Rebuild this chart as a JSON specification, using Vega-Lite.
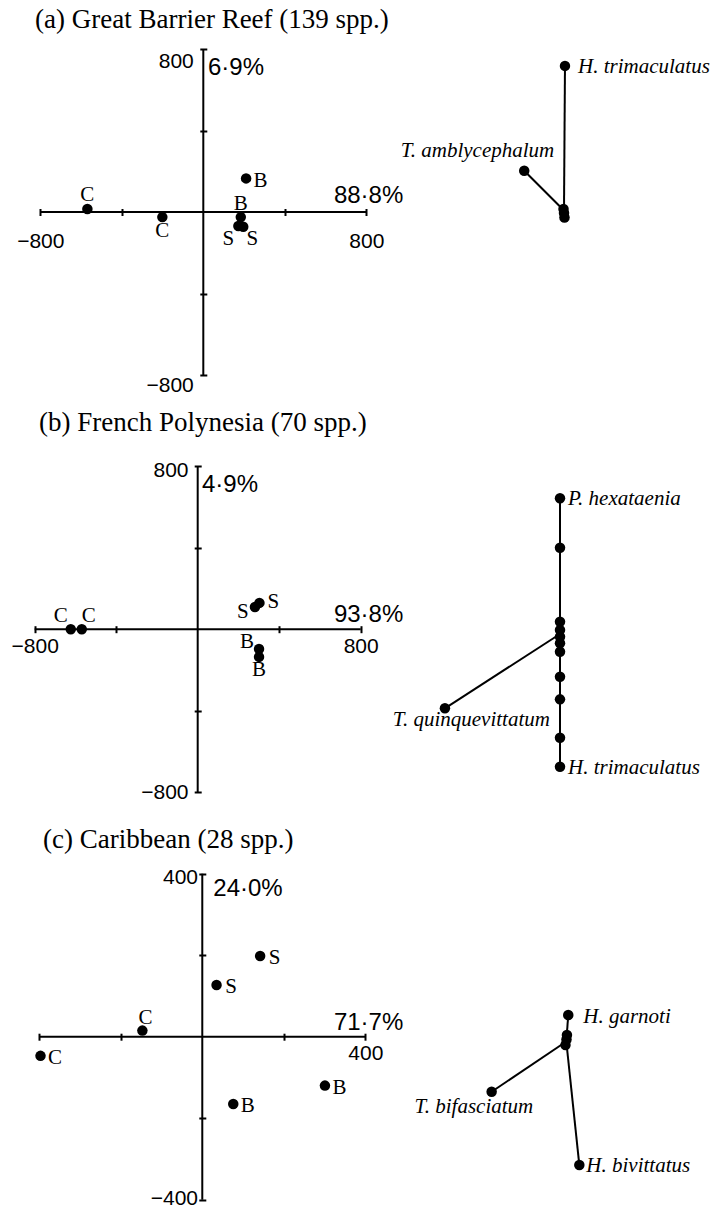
{
  "$schema": "https://vega.github.io/schema/vega-lite/v6.json",
  "padding": 0,
  "spacing": 0,
  "bounds": "flush",
  "background": "white",
  "config": {"view": {"stroke": null}},
  "vconcat": [
    {
      "width": 715,
      "height": 400,
      "resolve": {"scale": {"x": "independent", "y": "independent"}},
      "layer": [
        {
          "data": {"values": [
            {"g": "C", "x": -569, "y": 15, "lp": "above"},
            {"g": "C", "x": -201, "y": -25, "lp": "below"},
            {"g": "B", "x": 210, "y": 165, "lp": "right"},
            {"g": "B", "x": 184, "y": -25, "lp": "above"},
            {"g": "S", "x": 172, "y": -69, "lp": "belowleft"},
            {"g": "S", "x": 196, "y": -72, "lp": "belowright"}
          ]},
          "layer": [
            {
              "mark": {"type": "circle", "size": 110, "opacity": 1, "color": "black"},
              "encoding": {
                "x": {"field": "x", "type": "quantitative", "scale": {"domain": [-997.8, 2511.4], "nice": false, "zero": false},
                  "axis": {"values": [-800, -400, 400, 800], "domain": false, "grid": false, "title": null, "tickSize": 7, "tickWidth": 2, "tickColor": "black", "offset": -191.5, "labelExpr": "abs(datum.value)==800 ? datum.label : ''", "labelFont": "Liberation Sans", "labelFontSize": 21, "labelColor": "black", "labelBaseline": "middle", "labelPadding": 25.5, "labelFlush": false, "labelOverlap": false}},
                "y": {"field": "y", "type": "quantitative", "scale": {"domain": [-922.7, 1040.5], "nice": false, "zero": false},
                  "axis": {"values": [-800, -400, 400, 800], "domain": false, "grid": false, "title": null, "tickSize": 7, "tickWidth": 2, "tickColor": "black", "offset": -206.8, "labelExpr": "abs(datum.value)==800 ? datum.label : ''", "labelFont": "Liberation Sans", "labelFontSize": 21, "labelColor": "black", "labelBaseline": "middle", "labelAlign": "right", "labelPadding": 6.5, "labelOffset": {"condition": {"test": "datum.value < 0", "value": 10}, "value": 12}, "labelFlush": false, "labelOverlap": false}}
              }
            },
            {
              "data": {"values": [{}]},
              "mark": {"type": "rule", "strokeWidth": 2, "color": "black"},
              "encoding": {"x": {"datum": -800}, "x2": {"datum": 800}, "y": {"datum": 0}}
            },
            {
              "data": {"values": [{}]},
              "mark": {"type": "rule", "strokeWidth": 2, "color": "black"},
              "encoding": {"y": {"datum": -800}, "y2": {"datum": 800}, "x": {"datum": 0}}
            },
            {"transform": [{"filter": "datum.lp=='above'"}], "mark": {"type": "text", "font": "Liberation Serif", "fontSize": 21, "align": "center", "baseline": "middle", "dy": -13.5, "color": "black"}, "encoding": {"x": {"field": "x", "type": "quantitative"}, "y": {"field": "y", "type": "quantitative"}, "text": {"field": "g"}}},
            {"transform": [{"filter": "datum.lp=='below'"}], "mark": {"type": "text", "font": "Liberation Serif", "fontSize": 21, "align": "center", "baseline": "middle", "dy": 13.5, "color": "black"}, "encoding": {"x": {"field": "x", "type": "quantitative"}, "y": {"field": "y", "type": "quantitative"}, "text": {"field": "g"}}},
            {"transform": [{"filter": "datum.lp=='right'"}], "mark": {"type": "text", "font": "Liberation Serif", "fontSize": 21, "align": "center", "baseline": "middle", "dx": 14.5, "dy": 2.5, "color": "black"}, "encoding": {"x": {"field": "x", "type": "quantitative"}, "y": {"field": "y", "type": "quantitative"}, "text": {"field": "g"}}},
            {"transform": [{"filter": "datum.lp=='belowleft'"}], "mark": {"type": "text", "font": "Liberation Serif", "fontSize": 21, "align": "center", "baseline": "middle", "dx": -10, "dy": 13, "color": "black"}, "encoding": {"x": {"field": "x", "type": "quantitative"}, "y": {"field": "y", "type": "quantitative"}, "text": {"field": "g"}}},
            {"transform": [{"filter": "datum.lp=='belowright'"}], "mark": {"type": "text", "font": "Liberation Serif", "fontSize": 21, "align": "center", "baseline": "middle", "dx": 9, "dy": 12, "color": "black"}, "encoding": {"x": {"field": "x", "type": "quantitative"}, "y": {"field": "y", "type": "quantitative"}, "text": {"field": "g"}}},
            {
              "data": {"values": [{"t": "(a) Great Barrier Reef (139 spp.)"}]},
              "mark": {"type": "text", "font": "Liberation Serif", "fontSize": 27, "align": "left", "baseline": "middle", "color": "black"},
              "encoding": {"x": {"datum": -826}, "y": {"datum": 944}, "text": {"field": "t"}}
            },
            {
              "data": {"values": [{"t": "88·8%"}]},
              "mark": {"type": "text", "font": "Liberation Sans", "fontSize": 24, "align": "right", "baseline": "alphabetic", "color": "black"},
              "encoding": {"x": {"datum": 981.6}, "y": {"datum": 44.2}, "text": {"field": "t"}}
            },
            {
              "data": {"values": [{"t": "6·9%"}]},
              "mark": {"type": "text", "font": "Liberation Sans", "fontSize": 24, "align": "left", "baseline": "alphabetic", "color": "black"},
              "encoding": {"x": {"datum": 23}, "y": {"datum": 672.4}, "text": {"field": "t"}}
            }
          ]
        },
        {
          "data": {"values": [
            {"sp": "H. trimaculatus", "lx": 0.006, "ly": 0.887, "lp": "r"},
            {"sp": "T. amblycephalum", "lx": -0.244, "ly": 0.244, "lp": "ul"},
            {"sp": "", "lx": -0.003, "ly": 0.009, "lp": "none"},
            {"sp": "", "lx": 0.0, "ly": -0.015, "lp": "none"},
            {"sp": "", "lx": 0.003, "ly": -0.043, "lp": "none"}
          ]},
          "layer": [
            {
              "mark": {"type": "rule", "strokeWidth": 2, "color": "black"},
              "encoding": {
                "x": {"field": "lx", "type": "quantitative", "scale": {"domain": [-3.4601, 0.9264], "nice": false, "zero": false}, "axis": null},
                "y": {"field": "ly", "type": "quantitative", "scale": {"domain": [-1.1626, 1.2914], "nice": false, "zero": false}, "axis": null},
                "x2": {"datum": 0}, "y2": {"datum": 0}
              }
            },
            {
              "mark": {"type": "circle", "size": 110, "opacity": 1, "color": "black"},
              "encoding": {"x": {"field": "lx", "type": "quantitative", "axis": null}, "y": {"field": "ly", "type": "quantitative", "axis": null}}
            },
            {"transform": [{"filter": "datum.lp=='r'"}], "mark": {"type": "text", "font": "Liberation Serif", "fontStyle": "italic", "fontSize": 21, "align": "left", "baseline": "middle", "dx": 13, "dy": 1, "color": "black"}, "encoding": {"x": {"field": "lx", "type": "quantitative", "axis": null}, "y": {"field": "ly", "type": "quantitative", "axis": null}, "text": {"field": "sp"}}},
            {"transform": [{"filter": "datum.lp=='ul'"}], "mark": {"type": "text", "font": "Liberation Serif", "fontStyle": "italic", "fontSize": 21, "align": "right", "baseline": "middle", "dx": 30, "dy": -20, "color": "black"}, "encoding": {"x": {"field": "lx", "type": "quantitative", "axis": null}, "y": {"field": "ly", "type": "quantitative", "axis": null}, "text": {"field": "sp"}}}
          ]
        }
      ]
    },
    {
      "width": 715,
      "height": 412,
      "resolve": {"scale": {"x": "independent", "y": "independent"}},
      "layer": [
        {
          "data": {"values": [
            {"g": "C", "x": -623, "y": 0, "lp": "aboveleft"},
            {"g": "C", "x": -569, "y": 0, "lp": "aboveright"},
            {"g": "S", "x": 281, "y": 109, "lp": "left"},
            {"g": "S", "x": 303, "y": 129, "lp": "right"},
            {"g": "B", "x": 301, "y": -97, "lp": "upleft"},
            {"g": "B", "x": 301, "y": -136, "lp": "below"}
          ]},
          "layer": [
            {
              "mark": {"type": "circle", "size": 110, "opacity": 1, "color": "black"},
              "encoding": {
                "x": {"field": "x", "type": "quantitative", "scale": {"domain": [-970.3, 2538.9], "nice": false, "zero": false},
                  "axis": {"values": [-800, -400, 400, 800], "domain": false, "grid": false, "title": null, "tickSize": 7, "tickWidth": 2, "tickColor": "black", "offset": -186.3, "labelExpr": "abs(datum.value)==800 ? datum.label : ''", "labelFont": "Liberation Sans", "labelFontSize": 21, "labelColor": "black", "labelBaseline": "middle", "labelPadding": 14, "labelFlush": false, "labelOverlap": false}},
                "y": {"field": "y", "type": "quantitative", "scale": {"domain": [-897.2, 1124.9], "nice": false, "zero": false},
                  "axis": {"values": [-800, -400, 400, 800], "domain": false, "grid": false, "title": null, "tickSize": 7, "tickWidth": 2, "tickColor": "black", "offset": -201.2, "labelExpr": "abs(datum.value)==800 ? datum.label : ''", "labelFont": "Liberation Sans", "labelFontSize": 21, "labelColor": "black", "labelBaseline": "middle", "labelAlign": "right", "labelPadding": 6.2, "labelOffset": {"condition": {"test": "datum.value < 0", "value": 0}, "value": 4}, "labelFlush": false, "labelOverlap": false}}
              }
            },
            {
              "data": {"values": [{}]},
              "mark": {"type": "rule", "strokeWidth": 2, "color": "black"},
              "encoding": {"x": {"datum": -800}, "x2": {"datum": 800}, "y": {"datum": 0}}
            },
            {
              "data": {"values": [{}]},
              "mark": {"type": "rule", "strokeWidth": 2, "color": "black"},
              "encoding": {"y": {"datum": -800}, "y2": {"datum": 800}, "x": {"datum": 0}}
            },
            {"transform": [{"filter": "datum.lp=='aboveleft'"}], "mark": {"type": "text", "font": "Liberation Serif", "fontSize": 21, "align": "center", "baseline": "middle", "dx": -10, "dy": -13, "color": "black"}, "encoding": {"x": {"field": "x", "type": "quantitative"}, "y": {"field": "y", "type": "quantitative"}, "text": {"field": "g"}}},
            {"transform": [{"filter": "datum.lp=='aboveright'"}], "mark": {"type": "text", "font": "Liberation Serif", "fontSize": 21, "align": "center", "baseline": "middle", "dx": 7, "dy": -13, "color": "black"}, "encoding": {"x": {"field": "x", "type": "quantitative"}, "y": {"field": "y", "type": "quantitative"}, "text": {"field": "g"}}},
            {"transform": [{"filter": "datum.lp=='left'"}], "mark": {"type": "text", "font": "Liberation Serif", "fontSize": 21, "align": "center", "baseline": "middle", "dx": -12, "dy": 5, "color": "black"}, "encoding": {"x": {"field": "x", "type": "quantitative"}, "y": {"field": "y", "type": "quantitative"}, "text": {"field": "g"}}},
            {"transform": [{"filter": "datum.lp=='right'"}], "mark": {"type": "text", "font": "Liberation Serif", "fontSize": 21, "align": "center", "baseline": "middle", "dx": 14, "dy": -1, "color": "black"}, "encoding": {"x": {"field": "x", "type": "quantitative"}, "y": {"field": "y", "type": "quantitative"}, "text": {"field": "g"}}},
            {"transform": [{"filter": "datum.lp=='upleft'"}], "mark": {"type": "text", "font": "Liberation Serif", "fontSize": 21, "align": "center", "baseline": "middle", "dx": -12, "dy": -7, "color": "black"}, "encoding": {"x": {"field": "x", "type": "quantitative"}, "y": {"field": "y", "type": "quantitative"}, "text": {"field": "g"}}},
            {"transform": [{"filter": "datum.lp=='below'"}], "mark": {"type": "text", "font": "Liberation Serif", "fontSize": 21, "align": "center", "baseline": "middle", "dy": 13.5, "color": "black"}, "encoding": {"x": {"field": "x", "type": "quantitative"}, "y": {"field": "y", "type": "quantitative"}, "text": {"field": "g"}}},
            {
              "data": {"values": [{"t": "(b) French Polynesia (70 spp.)"}]},
              "mark": {"type": "text", "font": "Liberation Serif", "fontSize": 27, "align": "left", "baseline": "middle", "color": "black"},
              "encoding": {"x": {"datum": -778.9}, "y": {"datum": 1009.6}, "text": {"field": "t"}}
            },
            {
              "data": {"values": [{"t": "93·8%"}]},
              "mark": {"type": "text", "font": "Liberation Sans", "fontSize": 24, "align": "right", "baseline": "alphabetic", "color": "black"},
              "encoding": {"x": {"datum": 1009}, "y": {"datum": 36.8}, "text": {"field": "t"}}
            },
            {
              "data": {"values": [{"t": "4·9%"}]},
              "mark": {"type": "text", "font": "Liberation Sans", "fontSize": 24, "align": "left", "baseline": "alphabetic", "color": "black"},
              "encoding": {"x": {"datum": 21.1}, "y": {"datum": 673.4}, "text": {"field": "t"}}
            }
          ]
        },
        {
          "data": {"values": [
            {"sp": "P. hexataenia", "lx": 0, "ly": 0.833, "lp": "r"},
            {"sp": "", "lx": 0, "ly": 0.529, "lp": "none"},
            {"sp": "", "lx": 0, "ly": 0.075, "lp": "none"},
            {"sp": "", "lx": 0, "ly": 0.025, "lp": "none"},
            {"sp": "", "lx": 0, "ly": -0.017, "lp": "none"},
            {"sp": "", "lx": 0, "ly": -0.057, "lp": "none"},
            {"sp": "", "lx": 0, "ly": -0.109, "lp": "none"},
            {"sp": "", "lx": 0, "ly": -0.262, "lp": "none"},
            {"sp": "", "lx": 0, "ly": -0.401, "lp": "none"},
            {"sp": "", "lx": 0, "ly": -0.636, "lp": "none"},
            {"sp": "H. trimaculatus", "lx": 0, "ly": -0.814, "lp": "r"},
            {"sp": "T. quinquevittatum", "lx": -0.706, "ly": -0.456, "lp": "bl"}
          ]},
          "layer": [
            {
              "mark": {"type": "rule", "strokeWidth": 2, "color": "black"},
              "encoding": {
                "x": {"field": "lx", "type": "quantitative", "scale": {"domain": [-3.4356, 0.9509], "nice": false, "zero": false}, "axis": null},
                "y": {"field": "ly", "type": "quantitative", "scale": {"domain": [-1.092, 1.4356], "nice": false, "zero": false}, "axis": null},
                "x2": {"datum": 0}, "y2": {"datum": 0}
              }
            },
            {
              "mark": {"type": "circle", "size": 110, "opacity": 1, "color": "black"},
              "encoding": {"x": {"field": "lx", "type": "quantitative", "axis": null}, "y": {"field": "ly", "type": "quantitative", "axis": null}}
            },
            {"transform": [{"filter": "datum.lp=='r'"}], "mark": {"type": "text", "font": "Liberation Serif", "fontStyle": "italic", "fontSize": 21, "align": "left", "baseline": "middle", "dx": 8, "dy": 1, "color": "black"}, "encoding": {"x": {"field": "lx", "type": "quantitative", "axis": null}, "y": {"field": "ly", "type": "quantitative", "axis": null}, "text": {"field": "sp"}}},
            {"transform": [{"filter": "datum.lp=='bl'"}], "mark": {"type": "text", "font": "Liberation Serif", "fontStyle": "italic", "fontSize": 21, "align": "right", "baseline": "middle", "dx": 105, "dy": 12, "color": "black"}, "encoding": {"x": {"field": "lx", "type": "quantitative", "axis": null}, "y": {"field": "ly", "type": "quantitative", "axis": null}, "text": {"field": "sp"}}}
          ]
        }
      ]
    },
    {
      "width": 715,
      "height": 397,
      "resolve": {"scale": {"x": "independent", "y": "independent"}},
      "layer": [
        {
          "data": {"values": [
            {"g": "C", "x": -397, "y": -47, "lp": "right"},
            {"g": "C", "x": -147, "y": 15, "lp": "above"},
            {"g": "S", "x": 35, "y": 127, "lp": "right"},
            {"g": "S", "x": 142, "y": 198, "lp": "right"},
            {"g": "B", "x": 76, "y": -165, "lp": "right"},
            {"g": "B", "x": 301, "y": -120, "lp": "right"}
          ]},
          "layer": [
            {
              "mark": {"type": "circle", "size": 110, "opacity": 1, "color": "black"},
              "encoding": {
                "x": {"field": "x", "type": "quantitative", "scale": {"domain": [-496.4, 1258.2], "nice": false, "zero": false},
                  "axis": {"values": [-400, -200, 200, 400], "domain": false, "grid": false, "title": null, "tickSize": 7, "tickWidth": 2, "tickColor": "black", "offset": -175.8, "labelExpr": "datum.value==400 ? datum.label : ''", "labelFont": "Liberation Sans", "labelFontSize": 21, "labelColor": "black", "labelBaseline": "middle", "labelPadding": 13.1, "labelFlush": false, "labelOverlap": false}},
                "y": {"field": "y", "type": "quantitative", "scale": {"domain": [-422.8, 551.4], "nice": false, "zero": false},
                  "axis": {"values": [-400, -200, 200, 400], "domain": false, "grid": false, "title": null, "tickSize": 7, "tickWidth": 2, "tickColor": "black", "offset": -205.8, "labelExpr": "abs(datum.value)==400 ? datum.label : ''", "labelFont": "Liberation Sans", "labelFontSize": 21, "labelColor": "black", "labelBaseline": "middle", "labelAlign": "right", "labelPadding": 1.3, "labelOffset": {"condition": {"test": "datum.value < 0", "value": -1}, "value": 4}, "labelFlush": false, "labelOverlap": false}}
              }
            },
            {
              "data": {"values": [{}]},
              "mark": {"type": "rule", "strokeWidth": 2, "color": "black"},
              "encoding": {"x": {"datum": -400}, "x2": {"datum": 400}, "y": {"datum": 0}}
            },
            {
              "data": {"values": [{}]},
              "mark": {"type": "rule", "strokeWidth": 2, "color": "black"},
              "encoding": {"y": {"datum": -400}, "y2": {"datum": 400}, "x": {"datum": 0}}
            },
            {"transform": [{"filter": "datum.lp=='right'"}], "mark": {"type": "text", "font": "Liberation Serif", "fontSize": 21, "align": "center", "baseline": "middle", "dx": 14.5, "dy": 2, "color": "black"}, "encoding": {"x": {"field": "x", "type": "quantitative"}, "y": {"field": "y", "type": "quantitative"}, "text": {"field": "g"}}},
            {"transform": [{"filter": "datum.lp=='above'"}], "mark": {"type": "text", "font": "Liberation Serif", "fontSize": 21, "align": "center", "baseline": "middle", "dx": 3, "dy": -13, "color": "black"}, "encoding": {"x": {"field": "x", "type": "quantitative"}, "y": {"field": "y", "type": "quantitative"}, "text": {"field": "g"}}},
            {
              "data": {"values": [{"t": "(c) Caribbean (28 spp.)"}]},
              "mark": {"type": "text", "font": "Liberation Serif", "fontSize": 27, "align": "left", "baseline": "middle", "color": "black"},
              "encoding": {"x": {"datum": -390.9}, "y": {"datum": 482.2}, "text": {"field": "t"}}
            },
            {
              "data": {"values": [{"t": "71·7%"}]},
              "mark": {"type": "text", "font": "Liberation Sans", "fontSize": 24, "align": "right", "baseline": "alphabetic", "color": "black"},
              "encoding": {"x": {"datum": 493.3}, "y": {"datum": 16.4}, "text": {"field": "t"}}
            },
            {
              "data": {"values": [{"t": "24·0%"}]},
              "mark": {"type": "text", "font": "Liberation Sans", "fontSize": 24, "align": "left", "baseline": "alphabetic", "color": "black"},
              "encoding": {"x": {"datum": 27}, "y": {"datum": 345.3}, "text": {"field": "t"}}
            }
          ]
        },
        {
          "data": {"values": [
            {"sp": "H. garnoti", "lx": 0.012, "ly": 0.163, "lp": "r"},
            {"sp": "", "lx": 0.004, "ly": 0.04, "lp": "none"},
            {"sp": "", "lx": 0.001, "ly": 0.012, "lp": "none"},
            {"sp": "", "lx": -0.005, "ly": -0.021, "lp": "none"},
            {"sp": "H. bivittatus", "lx": 0.08, "ly": -0.758, "lp": "r2"},
            {"sp": "T. bifasciatum", "lx": -0.458, "ly": -0.308, "lp": "bl"}
          ]},
          "layer": [
            {
              "mark": {"type": "rule", "strokeWidth": 2, "color": "black"},
              "encoding": {
                "x": {"field": "lx", "type": "quantitative", "scale": {"domain": [-3.4742, 0.9123], "nice": false, "zero": false}, "axis": null},
                "y": {"field": "ly", "type": "quantitative", "scale": {"domain": [-1.0276, 1.408], "nice": false, "zero": false}, "axis": null},
                "x2": {"datum": 0}, "y2": {"datum": 0}
              }
            },
            {
              "mark": {"type": "circle", "size": 110, "opacity": 1, "color": "black"},
              "encoding": {"x": {"field": "lx", "type": "quantitative", "axis": null}, "y": {"field": "ly", "type": "quantitative", "axis": null}}
            },
            {"transform": [{"filter": "datum.lp=='r'"}], "mark": {"type": "text", "font": "Liberation Serif", "fontStyle": "italic", "fontSize": 21, "align": "left", "baseline": "middle", "dx": 15, "dy": 2, "color": "black"}, "encoding": {"x": {"field": "lx", "type": "quantitative", "axis": null}, "y": {"field": "ly", "type": "quantitative", "axis": null}, "text": {"field": "sp"}}},
            {"transform": [{"filter": "datum.lp=='r2'"}], "mark": {"type": "text", "font": "Liberation Serif", "fontStyle": "italic", "fontSize": 21, "align": "left", "baseline": "middle", "dx": 7, "dy": 1, "color": "black"}, "encoding": {"x": {"field": "lx", "type": "quantitative", "axis": null}, "y": {"field": "ly", "type": "quantitative", "axis": null}, "text": {"field": "sp"}}},
            {"transform": [{"filter": "datum.lp=='bl'"}], "mark": {"type": "text", "font": "Liberation Serif", "fontStyle": "italic", "fontSize": 21, "align": "right", "baseline": "middle", "dx": 41.6, "dy": 15, "color": "black"}, "encoding": {"x": {"field": "lx", "type": "quantitative", "axis": null}, "y": {"field": "ly", "type": "quantitative", "axis": null}, "text": {"field": "sp"}}}
          ]
        }
      ]
    }
  ]
}
